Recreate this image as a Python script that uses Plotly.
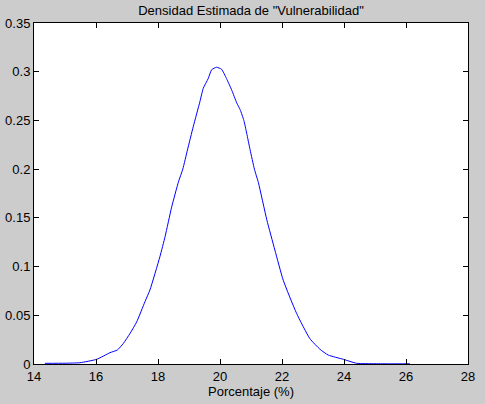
import plotly.graph_objects as go

x_vals = [14.35, 15.0, 15.48, 16.02, 16.45, 16.69, 16.88, 17.10, 17.31, 17.58, 17.74, 18.06, 18.23,
          18.44, 18.66, 18.80, 18.95, 19.14, 19.35, 19.46, 19.62, 19.73, 19.89, 20.05, 20.21, 20.38,
          20.54, 20.65, 20.77, 20.86, 20.97, 21.11, 21.24, 21.51, 21.77, 22.04, 22.47, 22.90, 23.23,
          23.49, 23.98, 24.41, 25.0, 25.5, 26.13]
y_vals = [0.0007, 0.0008, 0.0013, 0.0048, 0.0116, 0.0144, 0.021, 0.0315, 0.043, 0.064, 0.076, 0.110,
          0.131, 0.161, 0.187, 0.200, 0.2197, 0.244, 0.269, 0.283, 0.293, 0.302, 0.3046, 0.3025,
          0.293, 0.281, 0.268, 0.261, 0.250, 0.237, 0.220, 0.200, 0.186, 0.148, 0.117, 0.086,
          0.052, 0.026, 0.015, 0.0092, 0.0048, 0.0007, 0.0003, 0.0002, 0.0002]

x_ticks = [14, 16, 18, 20, 22, 24, 26, 28]
y_ticks = [0, 0.05, 0.1, 0.15, 0.2, 0.25, 0.3, 0.35]
y_tick_text = ["0", "0.05", "0.1", "0.15", "0.2", "0.25", "0.3", "0.35"]

title_text = 'Densidad Estimada de "Vulnerabilidad"'
x_label = "Porcentaje (%)"

font_family = "Liberation Sans, Arial, sans-serif"

fig = go.Figure()
fig.add_trace(go.Scatter(x=x_vals, y=y_vals, mode="lines",
                         line=dict(color="#0000ff", width=1, shape="spline", smoothing=0.5),
                         showlegend=False))

axis_common = dict(showgrid=False, zeroline=False, showline=True, linecolor="black",
                   linewidth=1, mirror="ticks", ticks="inside", ticklen=5, tickwidth=1,
                   tickcolor="black", automargin=False,
                   tickfont=dict(family=font_family, size=13, color="black"))

fig.update_layout(
    width=485, height=404,
    margin=dict(l=34, r=17, t=23, b=40, autoexpand=False),
    paper_bgcolor="#cccccc", plot_bgcolor="white",
    title=dict(text=title_text, x=0.5, xref="paper", xanchor="center",
               y=1 - 10 / 404, yref="container", yanchor="middle", automargin=False,
               font=dict(family=font_family, size=13, color="black")),
    xaxis=dict(range=[14, 28], tickvals=x_ticks, ticktext=[str(t) for t in x_ticks],
               title=dict(text=x_label, standoff=4,
                          font=dict(family=font_family, size=13, color="black")),
               **axis_common),
    yaxis=dict(range=[0, 0.35], tickvals=y_ticks, ticktext=y_tick_text, **axis_common),
)

fig.write_html("out.html")
